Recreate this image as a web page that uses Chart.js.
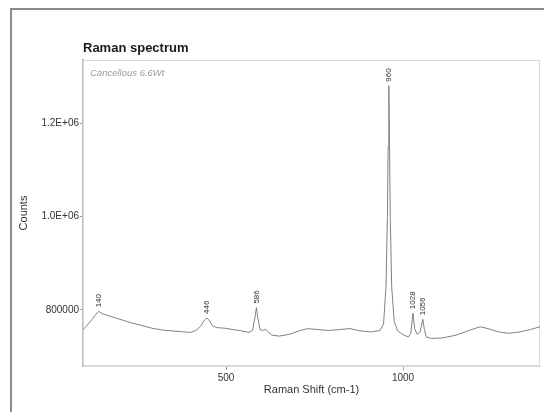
<!DOCTYPE html>
<html>
<head>
<meta charset="utf-8">
<script src="https://cdn.jsdelivr.net/npm/chart.js@4.4.1/dist/chart.umd.min.js"></script>
<style>
  html, body { margin: 0; padding: 0; background: #fff; overflow: hidden; }
  #wrap { position: relative; width: 544px; height: 412px; }
  #frame { position: absolute; left: 10px; top: 8px; width: 600px; height: 500px;
           border: 2px solid #8c8c8c; box-sizing: border-box; }
  canvas { position: absolute; left: 0; top: 0; }
</style>
</head>
<body>
<div id="wrap">
  <div id="frame"></div>
  <canvas id="myChart" width="544" height="412"></canvas>
</div>
<script>
// Raman shift (cm-1) and counts
var ramanShift = [96, 105, 120, 132, 140, 150, 175, 200, 230, 260, 290, 320, 350, 380, 400,
	415, 428, 440, 446, 452, 462, 475, 495, 520, 545, 565, 575, 582, 586, 590, 596,
	605, 612, 620, 630, 650, 680, 710, 730, 760, 790, 820, 850, 880, 910, 935, 945,
	952, 956, 958, 960, 962, 964, 968, 975, 985, 1000, 1015, 1022, 1028, 1033, 1040,
	1048, 1052, 1056, 1060, 1066, 1080, 1110, 1150, 1190, 1218, 1240, 1270, 1300,
	1330, 1360, 1387];
var counts = [758000, 765000, 778000, 790000, 797000, 792000, 786000, 780000, 773000,
	767000, 761000, 757000, 755000, 753000, 752000, 756000, 765000, 779000, 783000,
	778000, 766000, 762000, 761000, 758000, 755000, 752000, 756000, 785000, 805000,
	782000, 758000, 756000, 759000, 752000, 746000, 744000, 748000, 756000, 760000,
	758000, 756000, 758000, 760000, 755000, 753000, 756000, 770000, 850000, 1000000,
	1150000, 1280000, 1150000, 1000000, 850000, 775000, 755000, 747000, 742000, 750000,
	793000, 760000, 748000, 752000, 765000, 780000, 760000, 742000, 739000, 740000,
	746000, 757000, 764000, 760000, 753000, 750000, 753000, 758000, 764000];

var peakShifts = [140, 446, 586, 960, 1028, 1056];
var peakLabels = ["140", "446", "586", "960", "1028", "1056"];

var xTickValues = [500, 1000];
var yTickValues = [800000, 1000000, 1200000];
var yTickLabels = ["800000", "1.0E+06", "1.2E+06"];

var chartTitle = "Raman spectrum";
var sampleNote = "Cancellous 6.6Wt";

var points = [];
for (var i = 0; i < ramanShift.length; i++) {
	points.push({ x: ramanShift[i], y: counts[i] });
}

function countsAt(shift) {
	var idx = ramanShift.indexOf(shift);
	return counts[idx];
}

var extras = {
	id: "extras",
	beforeDatasetsDraw: function(chart) {
		var ctx = chart.ctx;
		var a = chart.chartArea;
		ctx.save();
		ctx.strokeStyle = "#d9d9d9";
		ctx.lineWidth = 1;
		ctx.strokeRect(a.left + 0.5, a.top + 0.5, a.right - a.left - 1, a.bottom - a.top - 1);
		ctx.restore();
	},
	afterDatasetsDraw: function(chart) {
		var ctx = chart.ctx;
		var a = chart.chartArea;
		var xs = chart.scales.x;
		var ys = chart.scales.y;
		ctx.save();
		// title
		ctx.fillStyle = "#1a1a1a";
		ctx.font = "bold 13px Arial, 'Liberation Sans', sans-serif";
		ctx.textAlign = "left";
		ctx.textBaseline = "middle";
		ctx.fillText(chartTitle, a.left, 48);
		// note
		ctx.fillStyle = "#9a9a9a";
		ctx.font = "italic 9.5px Arial, 'Liberation Sans', sans-serif";
		ctx.fillText(sampleNote, a.left + 7, 73);
		// peak labels
		ctx.fillStyle = "#333";
		ctx.font = "8px Arial, 'Liberation Sans', sans-serif";
		for (var i = 0; i < peakShifts.length; i++) {
			var px = xs.getPixelForValue(peakShifts[i]);
			var py = ys.getPixelForValue(countsAt(peakShifts[i]));
			ctx.save();
			ctx.translate(px, py - 4);
			ctx.rotate(-Math.PI / 2);
			ctx.textAlign = "left";
			ctx.textBaseline = "middle";
			ctx.fillText(peakLabels[i], 0, 0);
			ctx.restore();
		}
		ctx.restore();
	}
};

var ctx = document.getElementById("myChart");

var myChart = new Chart(ctx, {
	type: "line",
	data: {
		datasets: [
			{
				label: "Raman",
				data: points,
				borderColor: "#808080",
				borderWidth: 1,
				fill: false,
				lineTension: 0,
				pointRadius: 0
			}
		]
	},
	options: {
		responsive: false,
		animation: false,
		layout: { padding: { left: 13, top: 60, right: 4, bottom: 11 } },
		plugins: {
			legend: { display: false },
			title: { display: false },
			tooltip: { enabled: false }
		},
		scales: {
			x: {
				type: "linear",
				min: 96,
				max: 1387,
				afterFit: function(s) { s.height = 35; },
				afterBuildTicks: function(s) {
					s.ticks = xTickValues.map(function(v) { return { value: v }; });
				},
				border: { color: "#d9d9d9", width: 1 },
				grid: { drawOnChartArea: false, drawTicks: true, tickLength: 4, color: "#999" },
				ticks: {
					padding: 2,
					color: "#333",
					font: { family: "Arial, 'Liberation Sans', sans-serif", size: 10 },
					callback: function(v) { return String(v); }
				},
				title: {
					display: true,
					text: "Raman Shift (cm-1)",
					color: "#333",
					font: { family: "Arial, 'Liberation Sans', sans-serif", size: 11 }
				}
			},
			y: {
				min: 680000,
				max: 1335000,
				afterFit: function(s) { s.width = 70; },
				afterBuildTicks: function(s) {
					s.ticks = yTickValues.map(function(v) { return { value: v }; });
				},
				border: { color: "#bdbdbd", width: 2 },
				grid: { drawOnChartArea: false, drawTicks: true, tickLength: 3, color: "#999" },
				ticks: {
					padding: 1,
					color: "#333",
					font: { family: "Arial, 'Liberation Sans', sans-serif", size: 10 },
					callback: function(v) {
						var k = yTickValues.indexOf(v);
						return k >= 0 ? yTickLabels[k] : "";
					}
				},
				title: {
					display: true,
					text: "Counts",
					color: "#333",
					font: { family: "Arial, 'Liberation Sans', sans-serif", size: 11 }
				}
			}
		}
	},
	plugins: [extras]
});
</script>
</body>
</html>
